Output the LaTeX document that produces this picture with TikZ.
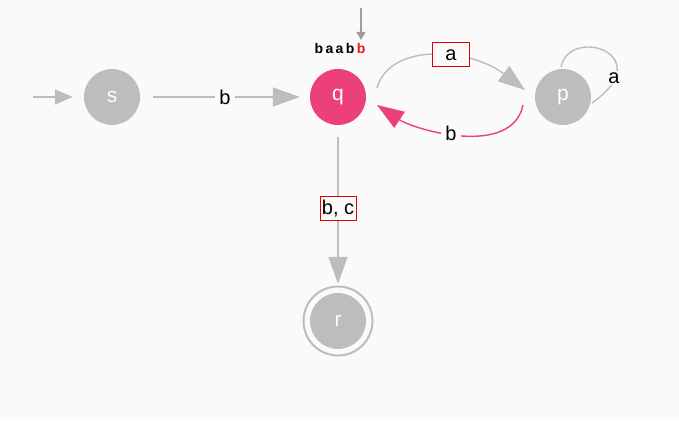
\documentclass[tikz,border=0pt]{standalone}
\usepackage{fontspec}
\setmainfont{Liberation Sans}
\usetikzlibrary{arrows.meta,calc}
\definecolor{bg}{HTML}{FAFAFA}
\definecolor{gr}{HTML}{BDBDBD}
\definecolor{pk}{HTML}{EC407A}
\definecolor{ptr}{HTML}{9E9E9E}
\definecolor{hl}{HTML}{F01818}
\definecolor{boxred}{HTML}{E00000}
\begin{document}
\begin{tikzpicture}[x=1pt,y=1pt,
  state/.style={circle, fill=gr, minimum size=56pt, inner sep=0pt, text=white,
                font=\fontsize{21}{23}\selectfont},
  edge/.style={gr, line width=1.4pt},
  bigtip/.style={-{Triangle[length=27pt,width=19pt]}},
  lbl/.style={fill=bg, inner sep=4.5pt, text=black, font=\fontsize{20}{22}\selectfont},
  boxed/.style={lbl, draw=boxred, line width=1pt, inner sep=0pt, minimum height=24pt}]
\fill[bg] (0,0) rectangle (679,420);
\useasboundingbox (0,0) rectangle (679,420);

% states
\node[state] (s) at (112,323) {s};
\node[state, fill=pk] (q) at (338,323) {q};
\node[state] (p) at (563,323) {p};
\node[state] (r) at (338,99) {r};
\draw[gr, line width=2pt] (r) circle (34.5pt);

% initial arrow
\coordinate (init) at (33,323);
\draw[edge, -{Triangle[length=18pt,width=15pt]}, shorten >=11pt] (init) -- (s);

% transitions
\draw[edge, bigtip, shorten <=13pt, shorten >=10pt] (s) -- node[lbl] {b} (q);
\draw[edge, bigtip, shorten <=12pt, shorten >=9pt] (q) -- node[boxed, minimum width=36pt] {b, c} (r);
\draw[edge, bigtip] ($(q)+(39,9)$) .. controls ($(q)+(52,55)$) and ($(p)+(-93,49)$) .. ($(p)+(-38,7)$);
\node[boxed, minimum width=37pt] (qpa) at ($(q)+(113,42)$) {a};
\draw[pk, line width=1.4pt, bigtip] ($(p)+(-40,-8)$) .. controls ($(p)+(-51,-61)$) and ($(q)+(77,-33)$) .. ($(q)+(39,-8)$)
  node[lbl, pos=0.55] {b};
\draw[edge] ($(p)+(-2,30)$) .. controls ($(p)+(7,72)$) and ($(p)+(97,42)$) .. ($(p)+(29,-6)$);
\node[lbl, inner sep=2pt] (loopa) at ($(p)+(51,19)$) {a};

% input word and reading head
\node[font=\bfseries\fontsize{14}{16}\selectfont, inner sep=0pt] (word) at (340,371)
  {b\hspace{2.4pt}a\hspace{2.4pt}a\hspace{2.4pt}b\hspace{2.4pt}\textcolor{hl}{b}};
\coordinate (ptop) at (361,412);
\coordinate (pbot) at (361,380);
\draw[ptr, line width=1.2pt, -{Triangle[length=8pt,width=9pt]}] (ptop) -- (pbot);
\end{tikzpicture}
\end{document}
